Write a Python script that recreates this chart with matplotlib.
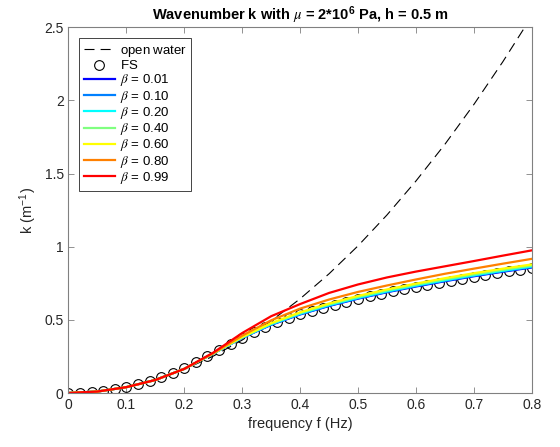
import numpy as np
import matplotlib
matplotlib.use("Agg")
import matplotlib.pyplot as plt
import matplotlib.ticker as ticker

plt.rcParams['font.family'] = ['Liberation Sans', 'DejaVu Sans']
plt.rcParams['mathtext.fontset'] = 'stix'

# frequency grids (Hz)
f_line = [0.00, 0.05, 0.10, 0.15, 0.20, 0.25, 0.30, 0.35, 0.40,
          0.45, 0.50, 0.55, 0.60, 0.65, 0.70, 0.75, 0.80]
f_fs = np.linspace(0, 0.8, 41)

# open water dispersion
k_open = [0.000, 0.010, 0.040, 0.091, 0.161, 0.252, 0.362, 0.493, 0.644,
          0.815, 1.006, 1.217, 1.449, 1.700, 1.972, 2.264, 2.575]

# FS (circles)
k_fs = [0.0000, 0.0016, 0.0065, 0.0146, 0.0261, 0.0410, 0.0595, 0.0818,
        0.1080, 0.1384, 0.1728, 0.2112, 0.2526, 0.2956, 0.3382, 0.3788,
        0.4164, 0.4507, 0.4820, 0.5106, 0.5369, 0.5612, 0.5838, 0.6050,
        0.6250, 0.6439, 0.6619, 0.6790, 0.6955, 0.7112, 0.7264, 0.7411,
        0.7553, 0.7690, 0.7824, 0.7953, 0.8080, 0.8203, 0.8323, 0.8441,
        0.8555]

betas = ['0.01', '0.10', '0.20', '0.40', '0.60', '0.80', '0.99']
k_b001 = [0, 0.010, 0.040, 0.089, 0.165, 0.270, 0.377, 0.466, 0.537,
          0.595, 0.645, 0.689, 0.728, 0.764, 0.798, 0.829, 0.858]
k_b010 = [0, 0.010, 0.040, 0.089, 0.165, 0.270, 0.378, 0.468, 0.539,
          0.597, 0.647, 0.691, 0.731, 0.767, 0.801, 0.832, 0.861]
k_b020 = [0, 0.010, 0.040, 0.089, 0.165, 0.270, 0.379, 0.470, 0.542,
          0.601, 0.651, 0.695, 0.735, 0.771, 0.805, 0.836, 0.865]
k_b040 = [0, 0.010, 0.040, 0.089, 0.165, 0.271, 0.381, 0.474, 0.547,
          0.606, 0.657, 0.701, 0.741, 0.777, 0.811, 0.842, 0.871]
k_b060 = [0, 0.010, 0.040, 0.089, 0.165, 0.271, 0.383, 0.478, 0.552,
          0.612, 0.664, 0.708, 0.748, 0.785, 0.819, 0.850, 0.879]
k_b080 = [0, 0.010, 0.040, 0.089, 0.165, 0.272, 0.392, 0.497, 0.577,
          0.639, 0.691, 0.735, 0.776, 0.815, 0.850, 0.884, 0.917]
k_b099 = [0, 0.010, 0.040, 0.089, 0.165, 0.276, 0.410, 0.525, 0.608,
          0.684, 0.742, 0.790, 0.830, 0.866, 0.902, 0.939, 0.975]
k_beta = [k_b001, k_b010, k_b020, k_b040, k_b060, k_b080, k_b099]
colors = ['#0000ff', '#0080ff', '#00ffff', '#80ff80', '#ffff00', '#ff8000', '#ff0000']

fig = plt.figure(figsize=(5.6, 4.47), dpi=100)
ax = fig.add_axes([0.1223, 0.1208, 0.8272, 0.8181])

ax.plot(f_line, k_open, color='black', lw=0.8, linestyle=(0, (9, 5.5)),
        label=r'$\mathregular{open\ water}$')
ax.plot(f_fs, k_fs, linestyle='none', marker='o', markersize=7, mfc='none',
        mec='black', mew=0.8, label=r'$\mathregular{FS}$')
for b, k, c in zip(betas, k_beta, colors):
    ax.plot(f_line, k, color=c, lw=1.6, label=r'$\beta$ = ' + b)

ax.set_xlim(0, 0.8)
ax.set_ylim(0, 2.5)
ax.set_xticks(np.arange(0, 0.81, 0.1))
ax.set_yticks([0, 0.5, 1, 1.5, 2, 2.5])
ax.xaxis.set_major_formatter(ticker.FormatStrFormatter('%g'))
ax.yaxis.set_major_formatter(ticker.FormatStrFormatter('%g'))
ax.tick_params(direction='in', top=True, right=True, length=4, width=0.6,
               color='#808080', labelcolor='#262626', labelsize=10)
for s in ax.spines.values():
    s.set_color('#808080')
    s.set_linewidth(0.8)

ax.set_xlabel('frequency f (Hz)', fontsize=10.5, color='#262626')
ax.set_ylabel(r'k (m$^{\mathregular{-1}}$)', fontsize=10.5, color='#262626')
ax.set_title(r'Wavenumber k with $\mu$ = 2*10$^{\mathregular{6}}$ Pa, h = 0.5 m',
             fontsize=10.5, fontweight='bold', pad=5)

leg = ax.legend(loc='upper left', bbox_to_anchor=(0.0227, 0.970), borderaxespad=0,
                fontsize=9.5, frameon=True, fancybox=False, framealpha=1,
                handlelength=2.4, labelspacing=0.02, borderpad=0.35, handletextpad=0.35)
leg.get_frame().set_edgecolor('#262626')
leg.get_frame().set_linewidth(0.6)

fig.savefig('out.png', dpi=100)
